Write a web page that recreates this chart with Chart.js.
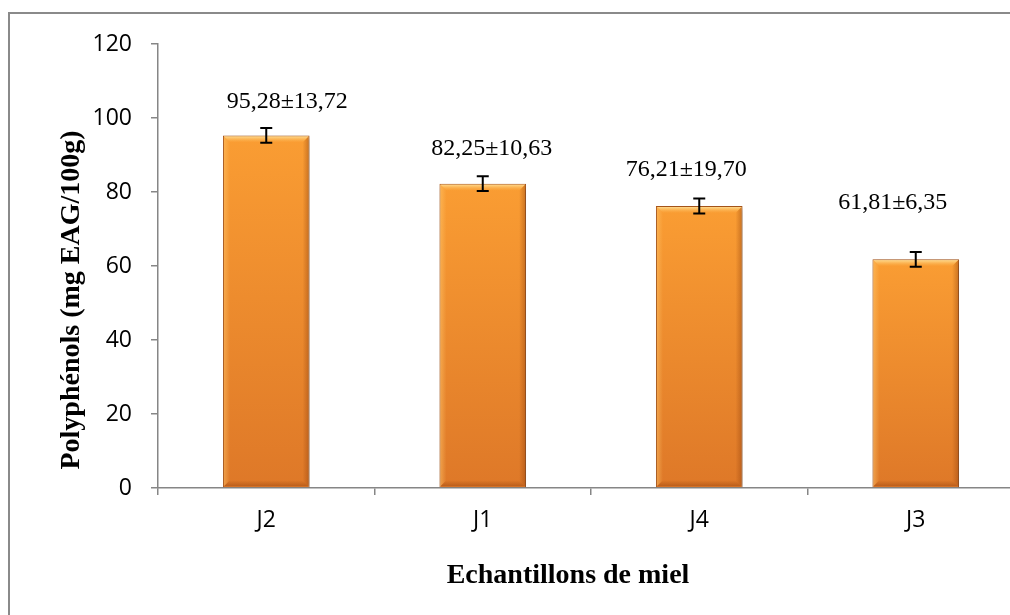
<!DOCTYPE html>
<html>
<head>
<meta charset="utf-8">
<script src="https://cdn.jsdelivr.net/npm/chart.js@4/dist/chart.umd.min.js"></script>
<style>
  html, body { margin: 0; padding: 0; background: #fff; overflow: hidden; width: 1010px; height: 615px; }
  #wrap { width: 1010px; height: 615px; overflow: hidden; position: relative; }
  canvas { display: block; }
</style>
</head>
<body>
<div id="wrap"><canvas id="c" width="1030" height="615" style="width:1030px;height:615px"></canvas></div>
<script>
// ---- data ----
const categories = ['J2', 'J1', 'J4', 'J3'];
const values = [95.28, 82.25, 76.21, 61.81];
const errors = [2, 2, 2, 2];
const valueLabels = ['95,28±13,72', '82,25±10,63', '76,21±19,70', '61,81±6,35'];
const yTicks = [0, 20, 40, 60, 80, 100, 120];
const yTitle = 'Polyphénols (mg EAG/100g)';
const xTitle = 'Echantillons de miel';

// label placement offsets (pixels relative to bar top-centre)
const labelDx = [21, 9, -13, -23];
const labelDy = [-34, -35, -36, -57];

const frame = {
  id: 'frame',
  beforeDraw(chart) {
    const c = chart.ctx;
    c.save();
    c.fillStyle = '#fff';
    c.fillRect(0, 0, chart.width, chart.height);
    c.strokeStyle = '#8a8a8a';
    c.lineWidth = 2;
    c.beginPath();
    c.moveTo(9, chart.height + 5);
    c.lineTo(9, 13);
    c.lineTo(chart.width + 5, 13);
    c.stroke();
    c.restore();
  },
  beforeDatasetsDraw(chart) {
    const c = chart.ctx;
    c.save();
    c.shadowColor = 'rgba(0,0,0,0.28)';
    c.shadowBlur = 5;
    c.shadowOffsetX = 2;
    c.shadowOffsetY = 2;
  },
  afterDatasetsDraw(chart) {
    const c = chart.ctx;
    c.restore();
    const meta = chart.getDatasetMeta(0);
    const ys = chart.scales.y;
    meta.data.forEach((bar, i) => {
      const w = bar.width;
      const left = bar.x - w / 2, right = bar.x + w / 2;
      const top = bar.y, bottom = bar.base;
      const b = 7;
      c.save();
      let g = c.createLinearGradient(0, top, 0, top + b);
      g.addColorStop(0, 'rgba(255,236,170,0.95)');
      g.addColorStop(1, 'rgba(255,190,90,0.0)');
      c.fillStyle = g;
      c.beginPath();
      c.moveTo(left + 1, top + 1);
      c.lineTo(right - 1, top + 1);
      c.lineTo(right - b, top + b);
      c.lineTo(left + b, top + b);
      c.closePath();
      c.fill();
      g = c.createLinearGradient(left, 0, left + b, 0);
      g.addColorStop(0, 'rgba(255,200,110,0.55)');
      g.addColorStop(1, 'rgba(255,200,110,0)');
      c.fillStyle = g;
      c.beginPath();
      c.moveTo(left + 1, top + 1);
      c.lineTo(left + b, top + b);
      c.lineTo(left + b, bottom - b);
      c.lineTo(left + 1, bottom - 1);
      c.closePath();
      c.fill();
      g = c.createLinearGradient(right - b, 0, right, 0);
      g.addColorStop(0, 'rgba(140,60,10,0)');
      g.addColorStop(1, 'rgba(140,60,10,0.45)');
      c.fillStyle = g;
      c.beginPath();
      c.moveTo(right - 1, top + 1);
      c.lineTo(right - b, top + b);
      c.lineTo(right - b, bottom - b);
      c.lineTo(right - 1, bottom - 1);
      c.closePath();
      c.fill();
      g = c.createLinearGradient(0, bottom - b, 0, bottom);
      g.addColorStop(0, 'rgba(140,60,10,0)');
      g.addColorStop(1, 'rgba(140,60,10,0.5)');
      c.fillStyle = g;
      c.beginPath();
      c.moveTo(left + 1, bottom - 1);
      c.lineTo(left + b, bottom - b);
      c.lineTo(right - b, bottom - b);
      c.lineTo(right - 1, bottom - 1);
      c.closePath();
      c.fill();
      c.restore();

      const v = values[i], e = errors[i];
      const yHi = ys.getPixelForValue(v + e);
      const yLo = ys.getPixelForValue(v - e);
      c.save();
      c.strokeStyle = '#000';
      c.lineWidth = 2;
      c.beginPath();
      c.moveTo(bar.x, yHi); c.lineTo(bar.x, yLo);
      c.moveTo(bar.x - 6, yHi); c.lineTo(bar.x + 6, yHi);
      c.moveTo(bar.x - 6, yLo); c.lineTo(bar.x + 6, yLo);
      c.stroke();
      c.restore();

      c.save();
      c.fillStyle = '#000';
      c.font = '24px "Liberation Serif", "Times New Roman", serif';
      c.textAlign = 'center';
      c.textBaseline = 'middle';
      c.fillText(valueLabels[i], bar.x + labelDx[i], top + labelDy[i]);
      c.restore();
    });
  },
  afterDraw(chart) {
    const c = chart.ctx;
    c.save();
    c.fillStyle = '#000';
    c.font = 'bold 28px "Liberation Serif", "Times New Roman", serif';
    c.textAlign = 'center';
    c.textBaseline = 'middle';
    c.fillText(xTitle, 568, 576);
    c.translate(72, 300);
    c.rotate(-Math.PI / 2);
    c.fillText(yTitle, 0, 0);
    c.restore();
  }
};

function barFill(ctx) {
  const chart = ctx.chart;
  const ys = chart.scales && chart.scales.y;
  if (!ys || ctx.type !== 'data') return '#F08A2C';
  const top = ys.getPixelForValue(values[ctx.dataIndex]);
  const bottom = ys.getPixelForValue(0);
  if (!isFinite(top) || !isFinite(bottom) || top === bottom) return '#F08A2C';
  const g = chart.ctx.createLinearGradient(0, top, 0, bottom);
  g.addColorStop(0, '#FA9D33');
  g.addColorStop(1, '#DE7828');
  return g;
}

new Chart(document.getElementById('c'), {
  type: 'bar',
  data: {
    labels: categories,
    datasets: [{
      data: values,
      backgroundColor: barFill,
      borderColor: '#A9561A',
      borderWidth: 1,
      barPercentage: 0.4,
      categoryPercentage: 1.0
    }]
  },
  plugins: [frame],
  options: {
    responsive: false,
    maintainAspectRatio: false,
    devicePixelRatio: 1,
    animation: false,
    events: [],
    layout: { padding: { left: 0, right: 6, top: 44, bottom: 0 } },
    plugins: { legend: { display: false }, tooltip: { enabled: false } },
    scales: {
      x: {
        offset: true,
        grid: { offset: true, drawOnChartArea: false, drawTicks: true, tickLength: 7, color: '#868686', lineWidth: 1.5 },
        border: { display: true, color: '#868686', width: 1.5 },
        ticks: { color: '#000', font: { family: '"Open Sans", "Noto Sans", sans-serif', size: 23 }, padding: 12, maxRotation: 0 },
        afterFit(s) { s.height = 127; }
      },
      y: {
        min: 0, max: 120,
        afterBuildTicks(s) { s.ticks = yTicks.map(v => ({ value: v })); },
        grid: { drawOnChartArea: false, drawTicks: true, tickLength: 7, color: '#868686', lineWidth: 1.5 },
        border: { display: true, color: '#868686', width: 1.5 },
        ticks: { color: '#000', font: { family: '"Open Sans", "Noto Sans", sans-serif', size: 23 }, padding: 19 },
        afterFit(s) { s.width = 158; }
      }
    }
  }
});
</script>
</body>
</html>
